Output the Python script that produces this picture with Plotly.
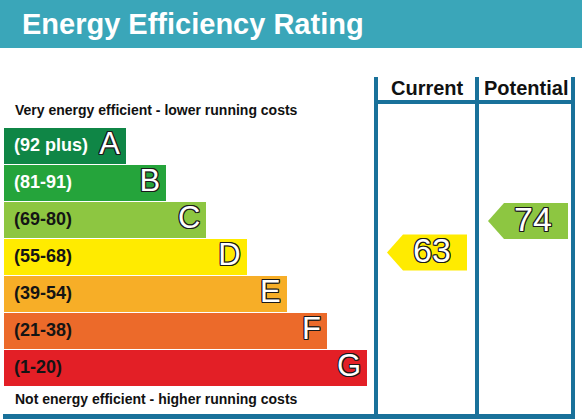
import plotly.graph_objects as go

# ---------------- data ----------------
title = "Energy Efficiency Rating"
bands = ["A", "B", "C", "D", "E", "F", "G"]
band_ranges = ["(92 plus)", "(81-91)", "(69-80)", "(55-68)", "(39-54)", "(21-38)", "(1-20)"]
band_min = [92, 81, 69, 55, 39, 21, 1]
band_max = [100, 91, 80, 68, 54, 38, 20]
band_colors = ["#0f8646", "#25a43b", "#8dc641", "#ffeb00", "#f7ae27", "#ec6a2a", "#e31f26"]
range_text_colors = ["white", "white", "#141414", "#141414", "#141414", "#141414", "#141414"]
columns = ["Current", "Potential"]
ratings = [63, 74]
top_note = "Very energy efficient - lower running costs"
bottom_note = "Not energy efficient - higher running costs"

# ---------------- layout constants ----------------
W, H = 582, 419
HEADER_BG = "#3aa6b9"
LINE_COL = "#19719a"
FONT = "Liberation Sans, Arial, sans-serif"
ROW_TOP = 127
ROW_H = 37
BAR_X0 = 4
BAR_LEN0 = 122
BAR_STEP = 40.2
COL_EDGES = [376, 477, 573]
OUTLINE = "-1px -1px 0 #1a1a1a, 1px -1px 0 #1a1a1a, -1px 1px 0 #1a1a1a, 1px 1px 0 #1a1a1a, 0 1px 0 #1a1a1a, 0 -1px 0 #1a1a1a, 1px 0 0 #1a1a1a, -1px 0 0 #1a1a1a"

centers = [ROW_TOP + ROW_H * i + ROW_H / 2 for i in range(len(bands))]
lengths = [BAR_LEN0 + BAR_STEP * i for i in range(len(bands))]

fig = go.Figure()

# band bars
fig.add_trace(go.Bar(
    y=centers, x=lengths, base=BAR_X0, orientation="h", width=ROW_H - 1,
    marker=dict(color=band_colors, line=dict(width=0)),
    hoverinfo="skip", showlegend=False,
))

# range labels
for i, (txt, col) in enumerate(zip(band_ranges, range_text_colors)):
    fig.add_trace(go.Scatter(
        x=[14], y=[centers[i] + 1], mode="text", text=[txt], textposition="middle right",
        textfont=dict(family=FONT, size=18, color=col, weight="bold"),
        hoverinfo="skip", showlegend=False,
    ))

# band letters
fig.add_trace(go.Scatter(
    x=[BAR_X0 + l - 6 for l in lengths], y=[c + 1 for c in centers], mode="text", text=bands,
    textposition="middle left",
    textfont=dict(family=FONT, size=31, color="white", shadow=OUTLINE),
    hoverinfo="skip", showlegend=False,
))

# rating arrows
for k, val in enumerate(ratings):
    i = next(j for j in range(len(bands)) if band_min[j] <= val <= band_max[j])
    top = ROW_TOP + ROW_H * i
    c = top + (band_max[i] - val + 0.5) / (band_max[i] - band_min[i] + 1) * ROW_H
    L = COL_EDGES[k] + 11
    R = L + 80
    hh = 18
    tip = 16
    fig.add_trace(go.Scatter(
        x=[L, L + tip, R, R, L + tip, L], y=[c, c - hh, c - hh, c + hh, c + hh, c],
        mode="lines", fill="toself", fillcolor=band_colors[i], line=dict(width=0, color=band_colors[i]),
        hoverinfo="skip", showlegend=False,
    ))
    fig.add_trace(go.Scatter(
        x=[(L + tip + R) / 2 - 3], y=[c + 1], mode="text", text=[str(val)], textposition="middle center",
        textfont=dict(family=FONT, size=34, color="white", shadow=OUTLINE),
        hoverinfo="skip", showlegend=False,
    ))

shapes = [
    dict(type="rect", xref="x", yref="y", x0=0, x1=W, y0=0, y1=48, fillcolor=HEADER_BG, line=dict(width=0), layer="below"),
]
for xe in COL_EDGES:
    shapes.append(dict(type="line", xref="x", yref="y", x0=xe, x1=xe, y0=77, y1=417, line=dict(color=LINE_COL, width=4)))
shapes.append(dict(type="line", xref="x", yref="y", x0=COL_EDGES[0], x1=COL_EDGES[-1], y0=102, y1=102, line=dict(color=LINE_COL, width=4)))
shapes.append(dict(type="line", xref="x", yref="y", x0=3, x1=COL_EDGES[-1] + 2, y0=416.5, y1=416.5, line=dict(color=LINE_COL, width=5)))

annotations = [
    dict(x=20, y=24, xref="x", yref="y", text=title, showarrow=False, xanchor="left", yanchor="middle",
         font=dict(family=FONT, size=29, color="white", weight="bold")),
    dict(x=13, y=110, xref="x", yref="y", text=top_note, showarrow=False, xanchor="left", yanchor="middle",
         font=dict(family=FONT, size=14, color="#111", weight="bold")),
    dict(x=13, y=399, xref="x", yref="y", text=bottom_note, showarrow=False, xanchor="left", yanchor="middle",
         font=dict(family=FONT, size=14, color="#111", weight="bold")),
]
for k, name in enumerate(columns):
    annotations.append(dict(x=(COL_EDGES[k] + COL_EDGES[k + 1]) / 2 + 1, y=88, xref="x", yref="y", text=name,
                            showarrow=False, xanchor="center", yanchor="middle",
                            font=dict(family=FONT, size=20, color="#111", weight="bold")))

fig.update_layout(
    width=W, height=H, margin=dict(l=0, r=0, t=0, b=0),
    paper_bgcolor="white", plot_bgcolor="white",
    xaxis=dict(range=[0, W], visible=False, fixedrange=True),
    yaxis=dict(range=[H, 0], visible=False, fixedrange=True),
    shapes=shapes, annotations=annotations, bargap=0, showlegend=False,
)

fig.write_html("out.html", config={"displayModeBar": False},
               post_script="document.body.style.margin='0';document.body.style.overflow='hidden';")
